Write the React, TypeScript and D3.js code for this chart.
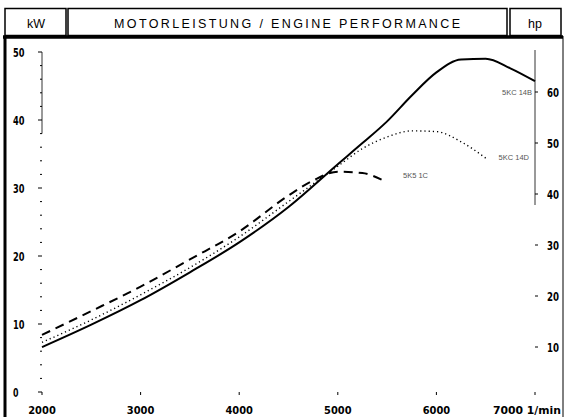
import React, { useEffect, useRef } from "react";
import * as d3 from "d3";

// engine speed (1/min) and power (kW) per engine variant
const rpmB = [2000, 2500, 3000, 3500, 4000, 4500, 5000, 5250, 5500, 5750, 6000, 6250, 6500, 6750, 7000];
const kwB = [6.6, 9.9, 13.5, 17.6, 22.0, 27.2, 33.5, 36.6, 39.8, 43.6, 47.0, 48.9, 49.0, 47.6, 45.7];

const rpmD = [2000, 2500, 3000, 3500, 4000, 4500, 5000, 5250, 5500, 5750, 6000, 6250, 6500];
const kwD = [7.3, 10.6, 14.3, 18.3, 22.8, 28.0, 33.2, 35.8, 37.5, 38.4, 38.3, 36.8, 34.4];

const rpmC = [2000, 2500, 3000, 3500, 4000, 4500, 4750, 5000, 5250, 5450];
const kwC = [8.4, 11.9, 15.5, 19.5, 23.6, 28.9, 31.1, 32.4, 32.2, 31.2];

const engineNames = ["5KC 14B", "5KC 14D", "5K5 1C"];

const rpmTicks = [2000, 3000, 4000, 5000, 6000, 7000];
const kwTicks = [0, 10, 20, 30, 40, 50];
const hpTicks = [10, 20, 30, 40, 50, 60];

const App = () => {
  const ref = useRef(null);

  useEffect(() => {
    const svg = d3.select(ref.current);
    svg.selectAll("*").remove();

    const x = d3.scaleLinear().domain([2000, 7000]).range([42, 535]);
    const y = d3.scaleLinear().domain([0, 50]).range([392, 52]);
    const yHp = d3.scaleLinear().domain([10, 60]).range([347, 92]);

    const numFont = "'DejaVu Sans Condensed', 'DejaVu Sans', sans-serif";
    const headFont = "'Liberation Sans', Arial, sans-serif";

    // header boxes
    const head = svg.append("g").attr("fill", "none").attr("stroke", "#000").attr("stroke-width", 1.5);
    head.append("rect").attr("x", 5).attr("y", 8.5).attr("width", 61).attr("height", 27);
    head.append("rect").attr("x", 68).attr("y", 8.5).attr("width", 439).attr("height", 27);
    head.append("rect").attr("x", 510).attr("y", 8.5).attr("width", 51).attr("height", 27);

    svg.append("text").attr("x", 36).attr("y", 27.5).attr("text-anchor", "middle")
      .attr("font-family", headFont).attr("font-size", 12.5).text("kW");
    svg.append("text").attr("x", 114).attr("y", 27.5)
      .attr("font-family", headFont).attr("font-size", 12.5)
      .attr("textLength", 346).attr("lengthAdjust", "spacing")
      .text("MOTORLEISTUNG / ENGINE PERFORMANCE");
    svg.append("text").attr("x", 535).attr("y", 27.5).attr("text-anchor", "middle")
      .attr("font-family", headFont).attr("font-size", 12.5).text("hp");

    // frame
    svg.append("line").attr("x1", 3).attr("x2", 563).attr("y1", 37).attr("y2", 37)
      .attr("stroke", "#000").attr("stroke-width", 3.5);
    svg.append("line").attr("x1", 5).attr("x2", 5).attr("y1", 36).attr("y2", 417)
      .attr("stroke", "#000").attr("stroke-width", 3);
    svg.append("line").attr("x1", 563).attr("x2", 563).attr("y1", 36).attr("y2", 417)
      .attr("stroke", "#000").attr("stroke-width", 1);

    // left kW axis
    svg.append("line").attr("x1", 42).attr("x2", 42).attr("y1", y(50)).attr("y2", y(38))
      .attr("stroke", "#000").attr("stroke-width", 0.8);
    svg.append("g").selectAll("line").data(d3.range(0, 51, 2)).join("line")
      .attr("x1", d => (d % 10 === 0 ? 38 : 40)).attr("x2", 42)
      .attr("y1", d => y(d)).attr("y2", d => y(d))
      .attr("stroke", "#000").attr("stroke-width", 1);
    svg.append("g").selectAll("text").data(kwTicks).join("text")
      .attr("x", 13).attr("y", d => y(d) + 5)
      .attr("font-family", numFont).attr("font-weight", "bold").attr("font-size", 13)
      .attr("textLength", d => (d === 0 ? 5.5 : 11.5)).attr("lengthAdjust", "spacingAndGlyphs")
      .text(d => d);

    // right hp axis
    svg.append("line").attr("x1", 535).attr("x2", 535).attr("y1", 50).attr("y2", 205)
      .attr("stroke", "#000").attr("stroke-width", 0.8);
    svg.append("g").selectAll("line").data(hpTicks).join("line")
      .attr("x1", 535).attr("x2", 538)
      .attr("y1", d => yHp(d)).attr("y2", d => yHp(d))
      .attr("stroke", "#000").attr("stroke-width", 1);
    svg.append("g").selectAll("text").data(hpTicks).join("text")
      .attr("x", 547).attr("y", d => yHp(d) + 5)
      .attr("font-family", numFont).attr("font-weight", "bold").attr("font-size", 13)
      .attr("textLength", 12).attr("lengthAdjust", "spacingAndGlyphs")
      .text(d => d);

    // bottom rpm axis
    svg.append("g").selectAll("line").data(rpmTicks).join("line")
      .attr("x1", d => x(d)).attr("x2", d => x(d)).attr("y1", 392).attr("y2", 395)
      .attr("stroke", "#000").attr("stroke-width", 1);
    svg.append("g").selectAll("text").data(rpmTicks.slice(0, -1)).join("text")
      .attr("x", d => x(d)).attr("y", 414).attr("text-anchor", "middle")
      .attr("font-family", numFont).attr("font-weight", "bold").attr("font-size", 11)
      .text(d => d);
    svg.append("text").attr("x", 561).attr("y", 414).attr("text-anchor", "end")
      .attr("font-family", numFont).attr("font-weight", "bold").attr("font-size", 11)
      .attr("textLength", 68).attr("lengthAdjust", "spacingAndGlyphs")
      .text(rpmTicks[rpmTicks.length - 1] + " 1/min");

    // curves
    const line = d3.line().x(d => x(d[0])).y(d => y(d[1])).curve(d3.curveMonotoneX);
    const series = [
      { r: rpmB, k: kwB, w: 2, dash: null },
      { r: rpmD, k: kwD, w: 1.4, dash: "1.2,3" },
      { r: rpmC, k: kwC, w: 2, dash: "9,6" },
    ];
    series.forEach(s => {
      svg.append("path")
        .attr("d", line(s.r.map((r, i) => [r, s.k[i]])))
        .attr("fill", "none").attr("stroke", "#000")
        .attr("stroke-width", s.w)
        .attr("stroke-dasharray", s.dash);
    });

    // engine labels
    const lab = [
      { t: engineNames[0], x: 532, y: 95 },
      { t: engineNames[1], x: 529, y: 160 },
      { t: engineNames[2], x: 428, y: 178 },
    ];
    svg.append("g").selectAll("text").data(lab).join("text")
      .attr("x", d => d.x).attr("y", d => d.y).attr("text-anchor", "end")
      .attr("font-family", headFont).attr("font-size", 7.5).attr("fill", "#555")
      .text(d => d.t);
  }, []);

  return (
    <svg ref={ref} width={565} height={417}
      style={{ position: "absolute", left: 0, top: 0, background: "#fff" }} />
  );
};

export default App;
